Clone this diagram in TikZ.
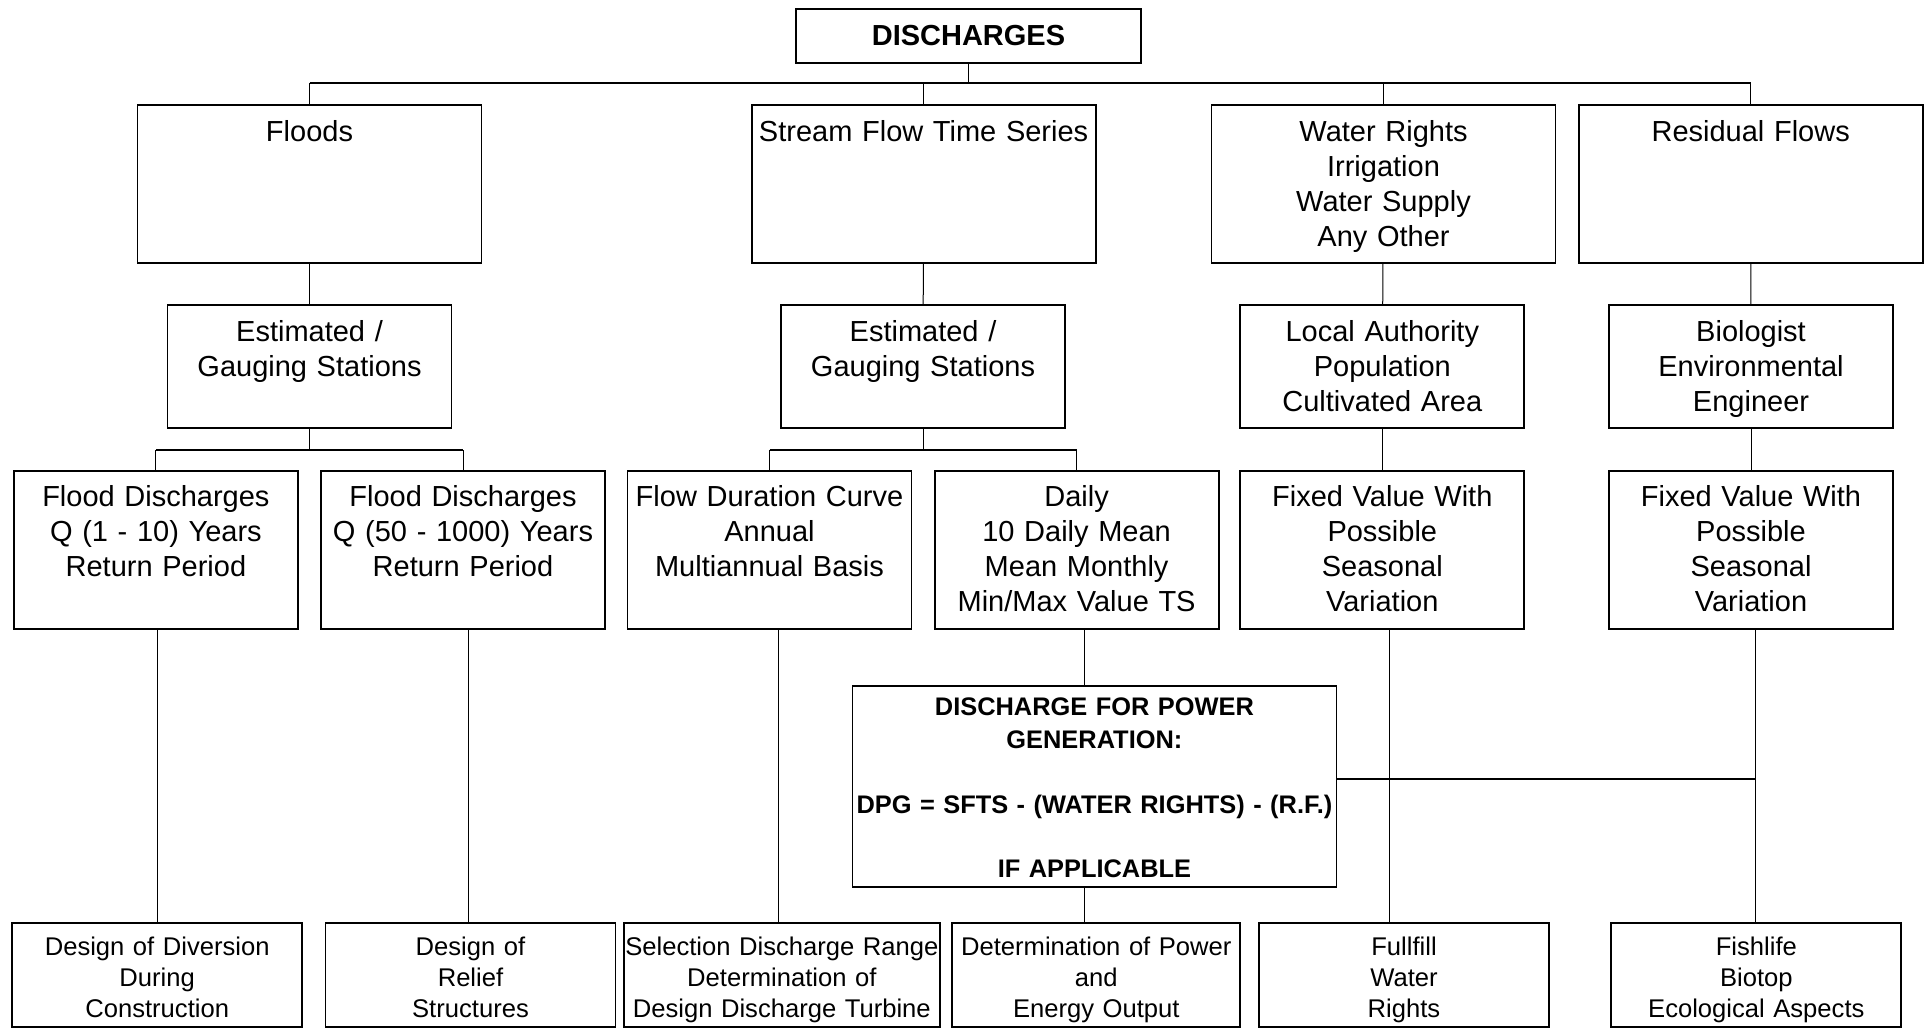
\documentclass[tikz,border=0pt]{standalone}
\usepackage{fontspec}
\setmainfont{Liberation Sans}
\begin{document}
\begin{tikzpicture}[
  x=0.5pt, y=-0.5pt,
  box/.style={draw, line width=0.9pt, inner sep=0pt, align=center},
  head/.style={box, minimum width=172.5pt, minimum height=26.7pt, font=\fontsize{14.5}{17.5}\selectfont\bfseries},
  lvlone/.style={box, text width=172pt, text height=18pt, text depth=61pt, font=\fontsize{14.5}{17.5}\selectfont},
  lvltwo/.style={lvlone, text width=142pt, text depth=43.5pt},
  lvlthree/.style={lvlone, text width=142pt, text depth=61pt},
  dpgbox/.style={box, text width=242pt, text height=15pt, text depth=85.5pt, font=\fontsize{12.7}{16.2}\selectfont\bfseries},
  result/.style={box, text width=145pt, text height=16pt, text depth=36pt, font=\fontsize{12.8}{15.6}\selectfont},
  link/.style={line width=0.5pt},
  bus/.style={line width=1pt}
]
\useasboundingbox (0,0) rectangle (1926,1028);

% =======================
% Top: discharges
% =======================
\node[head] (disch) at (968.5,36) {DISCHARGES};

% Level 1
\node[lvlone] (floods)  at (309.5,184)  {Floods};
\node[lvlone] (sfts)    at (923.6,184)  {Stream Flow Time Series};
\node[lvlone] (wrights) at (1383.5,184) {Water Rights\\Irrigation\\Water Supply\\Any Other};
\node[lvlone] (resid)   at (1750.7,184) {Residual Flows};

% Level 2
\node[lvltwo] (estA)  at (309.5,366.8)  {Estimated /\\Gauging Stations};
\node[lvltwo] (estB)  at (923,366.8)    {Estimated /\\Gauging Stations};
\node[lvltwo] (local) at (1382.3,366.8) {Local Authority\\Population\\Cultivated Area};
\node[lvltwo] (bio)   at (1751,366.8)   {Biologist\\Environmental\\Engineer};

% Level 3
\node[lvlthree] (fdA)   at (155.9,549.9)  {Flood Discharges\\Q (1 - 10) Years\\Return Period};
\node[lvlthree] (fdB)   at (463,549.9)    {Flood Discharges\\Q (50 - 1000) Years\\Return Period};
\node[lvlthree] (fdc)   at (769.5,549.9)  {Flow Duration Curve\\Annual\\Multiannual Basis};
\node[lvlthree] (daily) at (1076.6,549.9) {Daily\\10 Daily Mean\\Mean Monthly\\Min/Max Value TS};
\node[lvlthree] (fixA)  at (1382.3,549.9) {Fixed Value With\\Possible\\Seasonal\\Variation};
\node[lvlthree] (fixB)  at (1751,549.9)   {Fixed Value With\\Possible\\Seasonal\\Variation};

% Power generation box
\node[dpgbox] (dpg) at (1094.4,786.4) {DISCHARGE FOR POWER\\GENERATION:\\[16.2pt]DPG = SFTS - (WATER RIGHTS) - (R.F.)\\[16.2pt]IF APPLICABLE};

% =======================
% Bottom: results
% =======================
\node[result] (divr)   at (157.2,975)  {Design of Diversion\\During\\Construction};
\node[result] (relief) at (470.5,975)  {Design of\\Relief\\Structures};
\node[result, text width=158pt] (select) at (781.8,975) {Selection Discharge Range\\Determination of\\Design Discharge Turbine};
\node[result, text width=144pt] (power) at (1096.3,975) {Determination of Power\\and\\Energy Output};
\node[result] (fulfil) at (1404,975)   {Fullfill\\Water\\Rights};
\node[result] (fish)   at (1756.3,975) {Fishlife\\Biotop\\Ecological Aspects};

% =======================
% Connectors
% =======================
\coordinate (topbus) at (968.5,83.3);
\coordinate (subA) at (309.5,450);
\coordinate (subB) at (923,450);

\draw[link] (disch.south) -- (topbus);
\draw[bus] (floods.north |- topbus) -- (resid.north |- topbus);
\foreach \n in {floods,sfts,wrights,resid}{
  \draw[link] (\n.north |- topbus) -- (\n.north);
}

\foreach \u/\v in {floods/estA,sfts/estB,wrights/local,resid/bio,local/fixA,bio/fixB}{
  \draw[link] (\u) -- (\v);
}

% split below the two gauging boxes
\draw[link] (estA.south) -- (subA);
\draw[link] (estB.south) -- (subB);
\draw[bus] (fdA.north |- subA) -- (fdB.north |- subA);
\draw[bus] (fdc.north |- subB) -- (daily.north |- subB);
\foreach \n/\c in {fdA/subA,fdB/subA,fdc/subB,daily/subB}{
  \draw[link] (\n.north |- \c) -- (\n.north);
}

% down to the results (lines sit a little right of the box centres)
\foreach \u/\v/\d in {fdA/divr/1pt,fdB/relief/2.5pt,fdc/select/4.7pt,fixA/fulfil/3.4pt,fixB/fish/2pt}{
  \draw[link] ([xshift=\d]\u.south) -- ([xshift=\d]\u.south |- \v.north);
}
\draw[link] ([xshift=4pt]daily.south) -- ([xshift=4pt]daily.south |- dpg.north);
\draw[link] ([xshift=4pt]daily.south |- dpg.south) -- ([xshift=4pt]daily.south |- power.north);

\draw[bus] ([yshift=3.9pt]dpg.east) -- ([yshift=3.9pt,xshift=2pt]dpg.east -| fixB.south);

\end{tikzpicture}
\end{document}
